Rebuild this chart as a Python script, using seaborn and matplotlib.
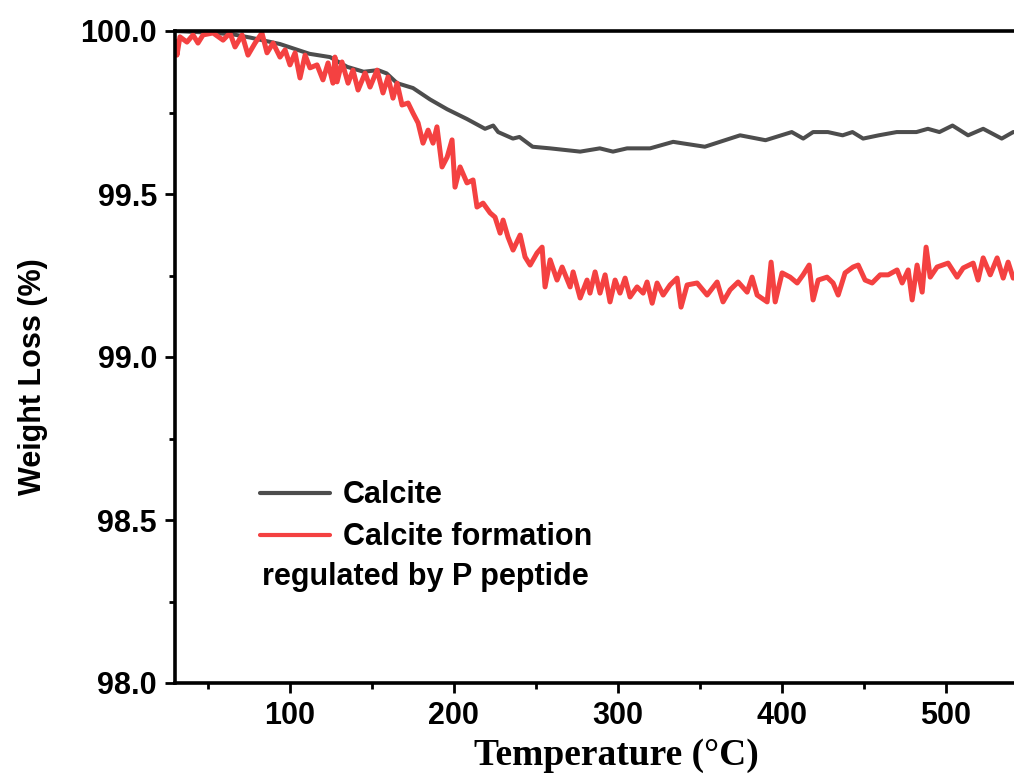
import numpy as np
import pandas as pd
import seaborn as sns
import matplotlib.pyplot as plt
from matplotlib.ticker import MultipleLocator, FormatStrFormatter

# Calcite (grey curve)
calcite_temp = [30, 50, 65, 75.7, 94, 112, 124.5, 135, 145, 153.8, 159, 165.4, 175.1,
                185.5, 195.9, 208, 219, 224, 227, 236, 240, 248, 258.7, 277, 289, 297,
                305.6, 319.6, 333.7, 340, 353, 374.5, 390, 406, 413, 419, 428, 437, 443,
                449.5, 459, 470, 482, 489, 496, 504, 513.5, 522.7, 534, 541, 545]
calcite_wt = [100.0, 99.995, 99.99, 99.98, 99.96, 99.93, 99.92, 99.89, 99.875, 99.88,
              99.87, 99.84, 99.825, 99.79, 99.76, 99.73, 99.70, 99.71, 99.69, 99.67,
              99.675, 99.645, 99.64, 99.63, 99.64, 99.63, 99.64, 99.64, 99.66, 99.655,
              99.645, 99.68, 99.665, 99.69, 99.67, 99.69, 99.69, 99.68, 99.69, 99.67,
              99.68, 99.69, 99.69, 99.70, 99.69, 99.71, 99.68, 99.70, 99.67, 99.69, 99.69]

# Calcite formation regulated by P peptide (red, noisy curve)
peptide_temp = [30.0, 31.2, 33.0, 37.3, 41.0, 44.0, 47.1, 53.2, 59.3, 63.5, 66.6, 70.9,
                74.5, 78.8, 83.0, 86.1, 89.8, 94.0, 97.1, 100.1, 103.2, 106.2, 109.3,
                112.3, 116.6, 120.2, 123.3, 126.3, 127.5, 128.8, 131.8, 135.5, 138.5,
                141.6, 145.9, 148.9, 153.2, 156.8, 159.9, 162.9, 165.4, 168.4, 172.1,
                175.1, 178.2, 181.2, 184.3, 187.3, 189.7, 192.8, 195.9, 198.9, 200.7,
                203.8, 208.0, 211.7, 214.1, 217.8, 222.1, 225.1, 228.2, 230.0, 233.0,
                236.1, 240.4, 243.4, 246.5, 250.7, 253.8, 255.6, 258.7, 262.9, 266.0,
                270.9, 272.7, 277.0, 281.2, 283.0, 286.1, 289.1, 292.2, 295.2, 298.3,
                301.3, 304.4, 307.4, 311.7, 315.4, 317.8, 320.9, 323.9, 327.6, 331.8,
                336.1, 338.5, 342.2, 348.3, 354.4, 360.5, 364.1, 368.4, 373.3, 378.8,
                381.8, 384.9, 391.0, 393.4, 395.9, 400.1, 405.0, 409.3, 412.9, 416.6,
                419.0, 422.1, 427.5, 431.2, 434.3, 438.5, 443.4, 446.5, 450.7, 455.0,
                459.9, 464.8, 470.2, 473.3, 477.0, 479.4, 482.4, 485.5, 487.9, 490.4,
                494.6, 501.3, 506.8, 510.5, 516.6, 519.6, 522.7, 527.0, 531.2, 534.9,
                537.9, 541.0, 545.0]
peptide_wt = [99.97, 99.926, 99.982, 99.966, 99.988, 99.963, 99.988, 99.994, 99.972,
              99.994, 99.951, 99.988, 99.926, 99.963, 99.994, 99.933, 99.963, 99.920,
              99.942, 99.896, 99.933, 99.856, 99.926, 99.887, 99.896, 99.850, 99.902,
              99.840, 99.920, 99.844, 99.905, 99.840, 99.880, 99.819, 99.871, 99.828,
              99.880, 99.810, 99.859, 99.794, 99.840, 99.773, 99.779, 99.748, 99.718,
              99.656, 99.696, 99.656, 99.706, 99.583, 99.613, 99.666, 99.521, 99.583,
              99.534, 99.543, 99.460, 99.472, 99.442, 99.429, 99.380, 99.420, 99.368,
              99.328, 99.374, 99.307, 99.282, 99.319, 99.337, 99.215, 99.298, 99.236,
              99.276, 99.215, 99.261, 99.181, 99.236, 99.196, 99.261, 99.196, 99.252,
              99.169, 99.236, 99.196, 99.242, 99.184, 99.215, 99.196, 99.230, 99.165,
              99.227, 99.190, 99.221, 99.242, 99.153, 99.221, 99.227, 99.190, 99.230,
              99.169, 99.206, 99.230, 99.199, 99.245, 99.190, 99.169, 99.291, 99.169,
              99.258, 99.245, 99.227, 99.252, 99.282, 99.175, 99.236, 99.245, 99.227,
              99.190, 99.258, 99.276, 99.282, 99.236, 99.227, 99.252, 99.252, 99.267,
              99.227, 99.267, 99.175, 99.282, 99.199, 99.337, 99.245, 99.276, 99.288,
              99.245, 99.273, 99.288, 99.236, 99.304, 99.252, 99.304, 99.242, 99.291,
              99.242, 99.27]

df_calcite = pd.DataFrame({'temp': calcite_temp, 'wt': calcite_wt})
df_peptide = pd.DataFrame({'temp': peptide_temp, 'wt': peptide_wt})

sns.set_style('ticks')
plt.rcParams['font.family'] = ['Liberation Sans', 'DejaVu Sans']
plt.rcParams['font.weight'] = 'bold'
plt.rcParams['text.color'] = 'black'
plt.rcParams['axes.labelcolor'] = 'black'
plt.rcParams['xtick.color'] = 'black'
plt.rcParams['ytick.color'] = 'black'

fig = plt.figure(figsize=(10.14, 7.84), dpi=100)
# axes runs past the right edge of the picture, as in the original crop
ax = fig.add_axes([175 / 1014, 101 / 784, 882 / 1014, 652 / 784])

sns.lineplot(data=df_calcite, x='temp', y='wt', ax=ax, color='#4d4d4d', lw=2.9,
             label='Calcite', sort=False)
sns.lineplot(data=df_peptide, x='temp', y='wt', ax=ax, color='#f44141', lw=3.6,
             label='Calcite formation', sort=False)

ax.set_xlim(30, 567.7)
ax.set_ylim(98.0, 100.0)
ax.xaxis.set_major_locator(MultipleLocator(100))
ax.xaxis.set_minor_locator(MultipleLocator(50))
ax.yaxis.set_major_locator(MultipleLocator(0.5))
ax.yaxis.set_minor_locator(MultipleLocator(0.25))
ax.yaxis.set_major_formatter(FormatStrFormatter('%.1f'))

for side in ['left', 'bottom', 'top', 'right']:
    ax.spines[side].set_linewidth(2.6)
    ax.spines[side].set_color('black')

ax.tick_params(axis='both', which='major', direction='out', length=7, width=2,
               labelsize=22, pad=6, color='black', labelcolor='black')
ax.tick_params(axis='both', which='minor', direction='out', length=4, width=2,
               color='black')
for lab in ax.get_xticklabels() + ax.get_yticklabels():
    lab.set_fontweight('bold')

ax.set_ylabel('Weight Loss (%)', fontsize=22, fontweight='bold', color='black')
ax.yaxis.set_label_coords(-0.144, 0.47)
ax.set_xlabel('Temperature (\u00b0C)', fontsize=27, fontweight='bold', color='black',
              family=['Liberation Serif', 'DejaVu Serif'])
ax.xaxis.set_label_coords(0.5, -0.085)

leg = ax.legend(loc='upper left', bbox_to_anchor=(0.0964, 0.311), frameon=False,
                borderpad=0, borderaxespad=0, handlelength=2.3, handletextpad=0.4,
                labelspacing=0.4, prop={'size': 22, 'weight': 'bold'})
for line in leg.get_lines():
    line.set_linewidth(3.0)
for t in leg.get_texts():
    t.set_color('black')
ax.text(0.099, 0.1625, 'regulated by P peptide', transform=ax.transAxes,
        fontsize=22, fontweight='bold', ha='left', va='center', color='black')

fig.savefig('out.png', dpi=100)
